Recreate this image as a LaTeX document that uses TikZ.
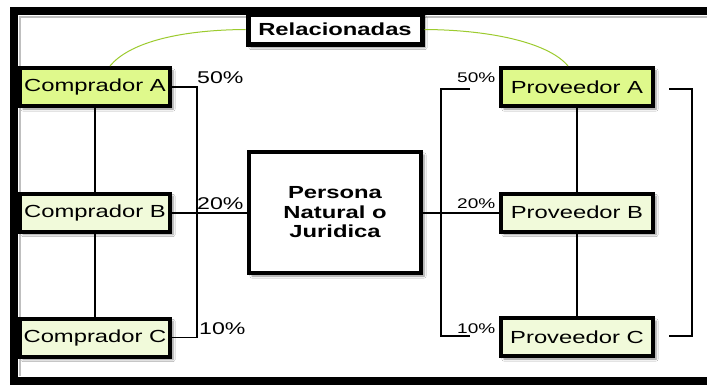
\documentclass[tikz,border=0pt]{standalone}
\usepackage{fontspec}
\setmainfont{Liberation Sans}[FakeStretch=1.36]
\usetikzlibrary{shadows.blur}
\definecolor{limeA}{HTML}{DFF98C}
\definecolor{limeB}{HTML}{F1FADA}
\definecolor{curvegreen}{HTML}{9CCB2E}
\begin{document}
\begin{tikzpicture}[x=1pt,y=-1pt,
  bshadow/.style={blur shadow={shadow xshift=3pt, shadow yshift=-3pt, shadow blur steps=6, shadow opacity=45}},
  entity/.style={draw=black, line width=4pt, minimum width=150pt, minimum height=38pt, inner sep=0pt,
    font=\fontsize{17.5}{20}\selectfont, bshadow},
  bigbox/.style={draw=black, fill=white, inner sep=0pt, bshadow},
  conn/.style={draw=black, line width=1.6pt},
  brk/.style={draw=black, line width=1.3pt},
  relcurve/.style={draw=curvegreen, line width=1pt},
  pctL/.style={inner sep=0pt, anchor=base west, font=\fontsize{17}{20}\selectfont},
  pctR/.style={inner sep=0pt, anchor=base west, font=\fontsize{14}{16}\selectfont}]
\useasboundingbox (0,0) rectangle (707,385);
\fill[white] (0,0) rectangle (707,385);
% outer frame
\draw[line width=8pt] (14,11) rectangle (760,381);
\draw[black!25, line width=2pt] (20,376) -- (20,17) -- (707,17);

% nodes
\node[entity, fill=limeA] (ca) at (95,87) {Comprador A};
\node[entity, fill=limeB] (cb) at (95,212.5) {Comprador B};
\node[entity, fill=limeB] (cc) at (95,337.5) {Comprador C};
\node[entity, fill=limeA, minimum width=152pt] (pa) at (577,87) {Proveedor A};
\node[entity, fill=limeB, minimum width=152pt] (pb) at (577,212.5) {Proveedor B};
\node[entity, fill=limeB, minimum width=152pt] (pc) at (577,337) {Proveedor C};
\node[bigbox, line width=5pt, minimum width=174pt, minimum height=30pt,
  font=\bfseries\fontsize{17.5}{20}\selectfont] (rel) at (335,29.5) {Relacionadas};
\node[bigbox, line width=4.5pt, minimum width=172pt, minimum height=121pt, align=center,
  font=\bfseries\fontsize{17.5}{19.5}\selectfont] (per) at (335,212.5) {Persona\\Natural o\\Juridica};

% free ends of the brackets
\coordinate (rlt) at (470,89);
\coordinate (rlb) at (470,336);
\coordinate (rrt) at (669,89);
\coordinate (rrb) at (669,336);

% connectors
\draw[conn] (ca) -- (cb);
\draw[conn] (cb) -- (cc);
\draw[conn] (pa) -- (pb);
\draw[conn] (pb) -- (pc);
\draw[conn, line width=2pt] (cb) -- (per);
\draw[conn, line width=2pt] (per) -- (pb);
\draw[brk] (ca.east) -- ++(25,0) |- (cc.east);
\draw[brk] (rlt) -- ++(-29,0) |- (rlb);
\draw[brk] (rrt) -- ++(23,0) |- (rrb);
\draw[relcurve] (rel.west) .. controls (175,30) and (128,44) .. ([xshift=15pt]ca.north);
\draw[relcurve] (rel.east) .. controls (495,30) and (550,44) .. ([xshift=-9pt]pa.north);

% percentages
\node[pctL] (l50) at (197,84) {50\%};
\node[pctL] (l20) at (197,209) {20\%};
\node[pctL] (l10) at (199,334) {10\%};
\node[pctR] (r50) at (457,83) {50\%};
\node[pctR] (r20) at (457,208) {20\%};
\node[pctR] (r10) at (457,333) {10\%};
\end{tikzpicture}
\end{document}
